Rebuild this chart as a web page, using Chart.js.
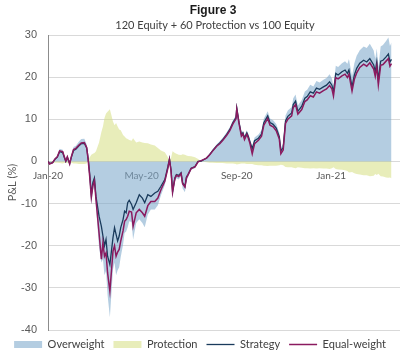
<!DOCTYPE html>
<html>
<head>
<meta charset="utf-8">
<script src="https://cdn.jsdelivr.net/npm/chart.js@4.4.1/dist/chart.umd.min.js"></script>
<style>
  html, body { margin: 0; padding: 0; background: #fff; }
  #wrap { width: 400px; height: 359px; position: relative; }
</style>
</head>
<body>
<div id="wrap"><canvas id="fig3"></canvas></div>
<script>
// days since 1 Jan 2020
var days = [0,2,6,9,12,15,19,21,23,25, 28,30,33,36,40,43,47,50,52,54,
  56,58,60,62,66,69,71,73,75,77, 80,84,86,88,90,92,94,97,99,101,
  103,105,108,110,114,118,122,125,129,133, 138,142,146,151,155,157,159,161,164,166,
  169,172,174,177,179,181,185,190,194,198, 205,209,213,218,222,226,231,235,239,243,
  244,247,250,252,254,257,259,261,264,267, 272,276,279,284,287,291,295,299,301,304,
  307,310,315,317,320,323,328,332,335,339, 343,347,351,356,360,364,367,369,372,375,
  380,384,387,389,393,396,399,403,408,412, 416,421,423,425,427,430,433,437,440,442, 444];

var equalWeight = [0,-0.6,-0.3,0.6,1.1,2.5,2.3,1.2,0.1,1.1, -0.6,1.0,2.8,3.1,3.9,4.4,4.5,3.3,0.2,-3.8,
  -8.5,-5.8,-4.6,-9.0,-17.0,-23.2,-19.3,-22.5,-21.7,-26.4, -30.8,-21.3,-20.0,-22.5,-21.5,-20.9,-18.9,-16.5,-14.2,-13.8,
  -13.0,-11.8,-12.0,-15.4,-12.2,-11.4,-12.2,-13.0,-10.5,-9.5, -9.5,-8.7,-6.7,-4.7,-1.6,0.4,-2.2,-7.3,-4.1,-3.3,
  -3.6,-2.9,-5.3,-6.1,-3.9,-3.2,-1.7,-1.3,-0.1,0.2, 0.8,1.6,2.5,3.6,4.2,5.0,6.2,7.3,8.9,10.1,
  12.4,8.9,6.0,6.5,5.2,6.4,5.5,4.3,1.8,4.2, 5.0,6.0,8.6,10.2,8.6,8.2,7.3,5.3,1.8,2.7,
  9.0,10.0,10.8,12.8,13.5,11.2,12.3,14.2,14.6,15.6, 15.3,16.5,16.2,16.8,17.2,18.0,17.2,15.5,19.9,19.6,
  20.3,20.7,19.9,20.7,16.7,19.5,21.0,22.3,23.1,22.6, 23.4,21.9,20.2,22.6,18.2,22.8,23.0,23.8,24.4,22.6, 23.2];

var strategy = [0,-0.5,-0.3,0.5,1.0,2.3,2.1,1.0,0.0,1.0, -0.5,0.9,2.6,2.9,3.7,4.2,4.3,3.2,0.6,-3.2,
  -7.9,-5.0,-3.9,-8.3,-13.0,-15.4,-17.7,-20.0,-18.5,-22.5, -24.5,-18.1,-15.7,-17.3,-18.9,-17.7,-15.7,-13.8,-11.8,-12.2,
  -9.8,-9.2,-10.2,-11.4,-9.8,-7.9,-8.7,-9.8,-7.9,-8.3, -7.5,-7.1,-5.9,-4.3,-1.2,0.6,-2.0,-7.1,-3.9,-3.1,
  -3.3,-2.7,-5.1,-5.9,-3.7,-3.1,-1.6,-1.2,0.0,0.1, 0.8,1.6,2.6,3.7,4.4,5.2,6.4,7.6,9.2,10.4,
  12.7,9.2,6.4,6.8,5.6,6.8,5.9,4.7,3.0,4.9, 5.5,6.5,9.2,10.8,9.2,8.8,7.9,5.9,2.5,3.3,
  9.6,10.7,11.5,13.5,14.3,11.9,13.1,15.0,15.4,16.5, 16.2,17.4,17.1,17.7,18.1,18.9,18.1,16.5,20.9,20.5,
  21.3,21.7,20.9,21.7,17.7,20.5,22.1,23.3,24.0,23.6, 24.4,22.9,21.3,23.6,19.3,23.8,24.0,24.8,25.5,23.6, 24.2];

var overweight = [0,-0.7,-0.4,0.7,1.3,3.0,2.8,1.4,0.1,1.3, -0.7,1.2,3.4,3.7,4.7,5.3,5.4,4.0,0.2,-4.6,
  -10.2,-7.0,-5.5,-10.8,-20.4,-24.0,-23.2,-27.0,-26.0,-31.7, -37.0,-25.6,-24.0,-27.0,-25.8,-25.1,-22.7,-19.8,-17.0,-16.6,
  -15.6,-14.2,-14.4,-18.5,-14.6,-13.7,-14.6,-15.6,-12.6,-11.4, -11.4,-10.4,-8.0,-5.6,-1.9,0.5,-2.6,-8.8,-4.9,-4.0,
  -4.3,-3.5,-6.4,-7.3,-4.7,-3.8,-2.0,-1.6,-0.1,0.1, 1.0,1.9,2.9,4.1,4.8,5.6,6.9,8.1,9.7,11.0,
  13.4,9.8,6.9,7.3,6.1,7.4,6.5,5.3,3.6,5.7, 6.4,7.4,10.2,11.9,10.2,9.8,8.9,6.8,3.3,4.2,
  10.9,12.1,12.9,15.0,15.9,13.3,14.6,16.6,17.0,18.2, 17.8,19.1,18.7,19.4,19.8,20.7,19.7,17.9,22.7,22.4,
  23.3,23.8,23.2,24.3,20.2,23.3,25.1,26.4,27.3,26.9, 27.9,26.3,24.3,26.8,22.2,27.3,27.6,28.6,29.4,27.4, 28.2];

var protection = [0,-0.1,-0.2,-0.3,-0.3,-0.4,-0.5,-0.4,-0.3,-0.4, -0.2,-0.3,-0.5,-0.5,-0.6,-0.6,-0.6,-0.5,0.3,1.0,
  1.6,1.8,2.0,2.4,4.5,7.0,8.3,10.3,11.4,11.8, 12.4,9.5,8.6,9.1,8.3,7.6,7.4,6.3,5.9,5.5,
  5.3,5.1,4.9,5.5,4.5,4.7,4.5,4.4,4.3,4.0, 3.8,3.2,2.6,2.2,1.0,0.1,0.8,2.4,2.0,1.8,
  1.6,1.5,1.7,1.6,1.4,1.3,1.2,1.0,0.6,0.0, -0.2,-0.3,-0.3,-0.4,-0.4,-0.4,-0.5,-0.5,-0.5,-0.6,
  -0.7,-0.6,-0.5,-0.5,-0.5,-0.6,-0.6,-0.6,-0.6,-0.8, -0.9,-0.9,-1.0,-1.1,-1.0,-1.0,-1.0,-0.9,-0.8,-0.9,
  -1.3,-1.4,-1.4,-1.5,-1.6,-1.4,-1.5,-1.6,-1.6,-1.7, -1.6,-1.7,-1.6,-1.7,-1.7,-1.8,-1.6,-1.4,-1.8,-1.9,
  -2.0,-2.1,-2.3,-2.6,-2.5,-2.8,-3.0,-3.1,-3.3,-3.3, -3.5,-3.4,-3.0,-3.2,-2.9,-3.5,-3.6,-3.8,-3.9,-3.8, -4.0];

var tickDays = [0, 121, 244, 366];
var tickLabels = ['Jan-20', 'May-20', 'Sep-20', 'Jan-21'];
var yTicks = [-40, -30, -20, -10, 0, 10, 20, 30];
var titleText = 'Figure 3';
var subtitleText = '120 Equity + 60 Protection vs 100 Equity';

function pts(vals) {
  return vals.map(function (v, i) { return { x: days[i], y: v }; });
}

// title + subtitle, centred like the original (a bit right of the canvas centre)
var titlePlugin = {
  id: 'figTitle',
  afterDraw: function (chart) {
    var ctx = chart.ctx;
    ctx.save();
    ctx.textAlign = 'center';
    ctx.textBaseline = 'middle';
    ctx.fillStyle = '#1a1a1a';
    ctx.font = 'bold 12px "Liberation Sans", Arial, sans-serif';
    ctx.fillText(titleText, 213, 11);
    ctx.fillStyle = '#404040';
    ctx.font = '11px Lato, sans-serif';
    ctx.fillText(subtitleText, 215, 25);
    ctx.restore();
  }
};

var ctx = document.getElementById('fig3').getContext('2d');
var myChart = new Chart(ctx, {
  type: 'line',
  data: {
    datasets: [{
      label: 'Overweight',
      data: pts(overweight),
      backgroundColor: 'rgba(126,168,203,0.58)',
      borderColor: 'rgba(126,168,203,0.58)',
      borderWidth: 0,
      fill: 'origin',
      pointStyle: 'rect',
      order: 4
    }, {
      label: 'Protection',
      data: pts(protection),
      backgroundColor: 'rgba(214,222,130,0.55)',
      borderColor: 'rgba(214,222,130,0.55)',
      borderWidth: 0,
      fill: 'origin',
      pointStyle: 'rect',
      order: 3
    }, {
      label: 'Strategy',
      data: pts(strategy),
      borderColor: '#1a3b5c',
      backgroundColor: '#1a3b5c',
      borderWidth: 1.3,
      fill: false,
      pointStyle: 'line',
      order: 2
    }, {
      label: 'Equal-weight',
      data: pts(equalWeight),
      borderColor: '#8b1a5f',
      backgroundColor: '#8b1a5f',
      borderWidth: 1.5,
      fill: false,
      pointStyle: 'line',
      order: 1
    }]
  },
  options: {
    responsive: true,
    maintainAspectRatio: false,
    animation: false,
    layout: { padding: { top: 35, left: 0, right: 0, bottom: 0 } },
    elements: { point: { radius: 0, hoverRadius: 0 }, line: { tension: 0 } },
    plugins: {
      tooltip: { enabled: false },
      title: { display: false },
      legend: {
        position: 'bottom',
        maxHeight: 29,
        labels: {
          usePointStyle: true,
          pointStyleWidth: 28,
          boxHeight: 7,
          padding: 9,
          color: '#404040',
          font: { family: 'Lato', size: 11 },
          sort: function (a, b) { return a.datasetIndex - b.datasetIndex; }
        }
      }
    },
    scales: {
      x: {
        type: 'linear',
        min: 0,
        max: 455,
        position: { y: 0 },
        grid: { display: false, drawTicks: false },
        border: { display: false },
        afterBuildTicks: function (s) {
          s.ticks = tickDays.map(function (d) { return { value: d }; });
        },
        ticks: {
          autoSkip: false,
          maxRotation: 0,
          padding: 8,
          color: '#595959',
          font: { family: 'Lato', size: 10 },
          callback: function (v) {
            var i = tickDays.indexOf(v);
            return i >= 0 ? tickLabels[i] : '';
          }
        }
      },
      y: {
        min: -40,
        max: 30,
        afterFit: function (s) { s.width = 48; },
        afterBuildTicks: function (s) {
          s.ticks = yTicks.map(function (v) { return { value: v }; });
        },
        grid: { color: '#d9d9d9', drawTicks: false },
        border: { display: true, color: '#8c8c8c' },
        ticks: {
          padding: 11,
          color: '#595959',
          font: { family: 'Liberation Sans', size: 11 }
        },
        title: {
          display: true,
          text: 'P&L (%)',
          color: '#595959',
          font: { family: 'Lato', size: 11 },
          padding: { top: 6, bottom: 0 }
        }
      }
    }
  },
  plugins: [titlePlugin]
});
</script>
</body>
</html>
